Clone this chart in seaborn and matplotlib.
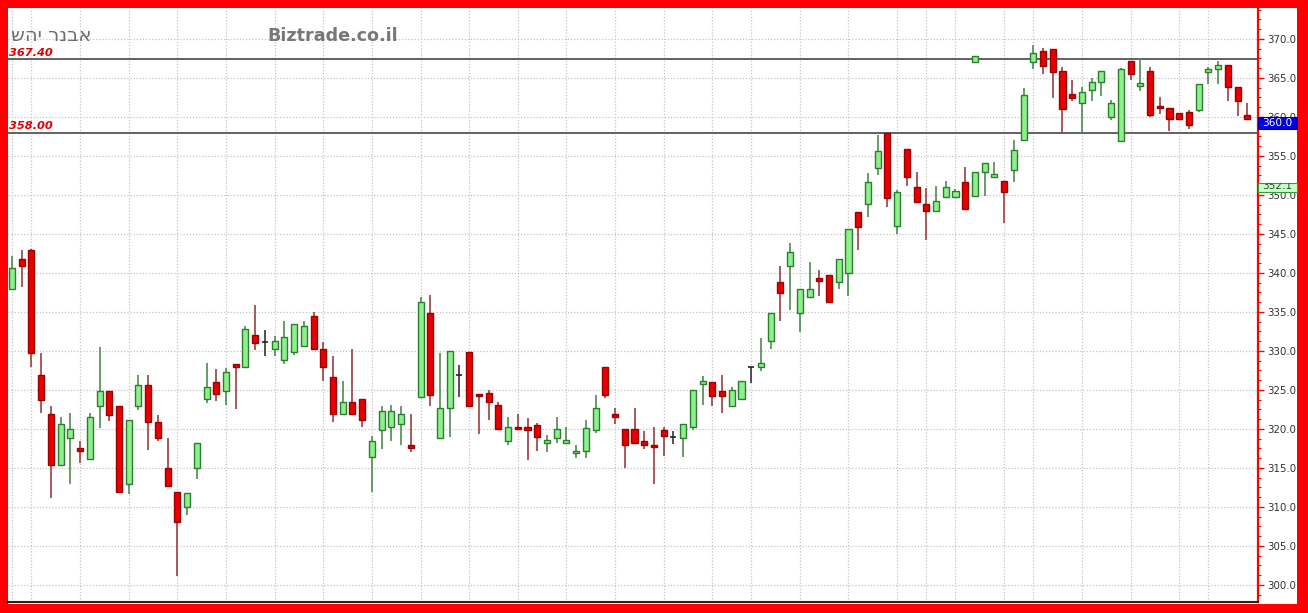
import matplotlib
matplotlib.use("Agg")
import matplotlib.pyplot as plt
import matplotlib.transforms as mtransforms
from matplotlib.patches import Rectangle
from matplotlib.ticker import MultipleLocator, FixedLocator
import numpy as np
import seaborn as sns

# ---- data (daily OHLC, oldest first) ----
opens = [337.9, 341.8, 343.0, 326.9, 321.9, 315.4, 318.8, 317.4, 316.1, 322.9,
         324.9, 322.9, 312.9, 322.9, 325.6, 320.9, 315.0, 311.9, 310.0, 315.0,
         323.9, 326.0, 324.9, 328.3, 327.9, 332.1, 331.1, 330.3, 328.9, 329.9,
         330.6, 334.5, 330.3, 326.7, 321.9, 323.4, 323.8, 316.4, 319.9, 320.2,
         320.6, 317.9, 324.1, 334.9, 318.8, 322.7, 326.9, 329.9, 324.5, 324.6,
         323.1, 318.4, 320.3, 320.1, 320.5, 318.2, 318.8, 318.2, 316.9, 317.2,
         319.9, 328.0, 321.9, 320.0, 320.0, 318.5, 318.0, 319.9, 319.0, 318.8,
         320.3, 325.8, 326.0, 324.9, 322.9, 323.9, 327.9, 328.0, 331.3, 338.9,
         340.9, 334.9, 336.9, 339.4, 339.7, 338.8, 340.0, 347.8, 348.9, 353.4,
         358.0, 346.0, 355.9, 351.0, 348.9, 347.9, 349.8, 349.8, 351.7, 349.9,
         352.9, 352.3, 351.8, 353.2, 357.1, 367.0, 368.4, 368.7, 365.9, 362.9,
         361.8, 363.5, 364.5, 360.0, 356.9, 367.2, 364.0, 365.9, 361.4, 361.2,
         360.5, 360.7, 360.9, 365.8, 366.2, 366.7, 363.8, 360.2]
highs = [342.2, 343.0, 343.1, 329.7, 322.9, 321.6, 322.0, 318.4, 322.0, 330.5,
         324.9, 322.9, 321.1, 326.9, 326.9, 321.8, 318.8, 311.9, 311.8, 318.2,
         328.4, 327.7, 327.8, 328.3, 333.2, 335.9, 332.7, 331.9, 333.9, 333.4,
         333.8, 335.0, 331.1, 329.4, 326.1, 330.2, 323.8, 319.1, 323.0, 323.1,
         323.0, 321.9, 336.9, 337.2, 329.7, 330.0, 328.2, 329.9, 324.5, 325.0,
         323.4, 321.6, 321.9, 321.4, 320.8, 319.2, 321.5, 320.3, 317.9, 321.2,
         324.4, 328.0, 322.7, 320.0, 322.7, 319.7, 320.3, 320.3, 319.7, 320.6,
         325.0, 326.8, 326.0, 326.9, 325.4, 326.1, 327.9, 331.7, 334.9, 340.9,
         343.9, 337.9, 341.4, 340.4, 339.7, 341.8, 345.6, 347.8, 352.8, 357.7,
         358.0, 350.7, 355.9, 353.0, 350.9, 351.2, 351.8, 350.8, 353.6, 352.9,
         354.1, 354.2, 351.8, 357.1, 363.7, 369.2, 368.9, 368.7, 366.4, 364.7,
         363.9, 365.0, 365.9, 362.2, 366.3, 367.2, 367.5, 366.4, 362.6, 361.2,
         360.5, 360.9, 364.2, 366.4, 367.2, 366.7, 363.8, 361.8]
lows = [337.9, 338.2, 328.0, 322.0, 311.1, 315.2, 312.9, 315.6, 316.1, 320.1,
        321.0, 311.9, 311.7, 322.4, 317.3, 318.4, 312.5, 301.1, 309.0, 313.6,
        323.3, 323.6, 323.1, 322.6, 327.9, 330.1, 329.3, 329.3, 328.3, 329.5,
        330.5, 330.3, 326.1, 320.9, 321.9, 321.9, 320.2, 311.9, 317.4, 318.5,
        317.9, 317.0, 324.1, 322.9, 318.8, 319.0, 324.1, 323.0, 319.3, 321.1,
        320.0, 317.9, 320.0, 316.0, 317.2, 317.1, 318.2, 318.2, 316.3, 316.3,
        319.5, 324.0, 320.6, 315.0, 318.2, 317.4, 312.9, 316.5, 318.1, 316.4,
        319.9, 323.1, 322.9, 322.0, 322.9, 323.9, 325.9, 327.4, 330.3, 333.8,
        335.2, 332.4, 336.9, 337.0, 336.1, 337.9, 337.0, 342.9, 347.2, 352.6,
        348.4, 345.0, 351.1, 349.1, 344.2, 347.9, 349.6, 349.8, 348.2, 349.9,
        349.9, 352.3, 346.4, 351.7, 357.0, 366.2, 365.5, 362.4, 358.0, 362.1,
        358.0, 362.1, 362.7, 359.6, 356.9, 364.7, 363.3, 360.0, 360.4, 358.2,
        359.6, 358.4, 360.6, 364.2, 364.2, 362.1, 360.1, 359.8]
closes = [340.6, 340.9, 329.7, 323.7, 315.4, 320.6, 320.0, 317.2, 321.6, 324.9,
          321.8, 311.9, 321.1, 325.6, 320.9, 318.9, 312.7, 308.1, 311.8, 318.2,
          325.4, 324.5, 327.3, 327.9, 332.8, 331.0, 331.1, 331.3, 331.8, 333.4,
          333.2, 330.3, 328.0, 321.9, 323.4, 321.9, 321.2, 318.5, 322.3, 322.3,
          321.9, 317.6, 336.3, 324.3, 322.7, 330.0, 326.9, 323.0, 324.2, 323.5,
          320.0, 320.3, 320.0, 319.9, 319.0, 318.6, 320.0, 318.6, 317.2, 320.1,
          322.7, 324.4, 321.6, 317.9, 318.2, 318.0, 317.7, 319.1, 319.0, 320.6,
          325.0, 326.1, 324.2, 324.2, 325.0, 326.1, 327.9, 328.4, 334.9, 337.4,
          342.7, 337.9, 337.9, 339.0, 336.3, 341.8, 345.6, 345.9, 351.7, 355.7,
          349.6, 350.4, 352.3, 349.1, 348.0, 349.2, 351.0, 350.5, 348.2, 352.9,
          354.1, 352.7, 350.4, 355.8, 362.8, 368.2, 366.5, 365.8, 361.0, 362.4,
          363.2, 364.5, 365.9, 361.8, 366.2, 365.5, 364.3, 360.3, 361.1, 359.7,
          359.7, 359.0, 364.2, 366.2, 366.7, 363.8, 362.1, 359.8]

# week separators (candle index) and horizontal levels
week_lines = [0, 2, 7, 12, 17, 22, 27, 32, 37, 42, 47, 52, 57, 62, 67, 72, 76,
              81, 86, 91, 94, 97, 102, 105, 110, 115, 120, 123]
levels = [367.40, 358.00]
marker_idx = 99
marker_price = 367.40
last_label = 360.0
avg_label = 352.1
y_ticks = list(range(300, 371, 5))

TITLE_HE = "אבנר יהש"
SITE = "Biztrade.co.il"

W, H = 1308, 613

sns.set_style("white")
plt.rcParams["font.family"] = ["DejaVu Sans"]

fig = plt.figure(figsize=(W / 100, H / 100), dpi=100, facecolor="#ff0000")

# white canvas inside the red frame (behind the axes)
fig.patches.append(Rectangle((8 / W, 9 / H), (1297 - 8) / W, (604 - 8) / H,
                             transform=fig.transFigure, facecolor="white",
                             edgecolor="none", zorder=-5))

ax = fig.add_axes([8 / W, (H - 602) / H, (1258 - 8) / W, (602 - 8) / H])
ax.set_facecolor("white")
ax.set_zorder(2)

n = len(opens)
idx = np.arange(n)
o = np.array(opens)
c = np.array(closes)
hi = np.array(highs)
lo = np.array(lows)

up = c > o
down = c < o
flat = c == o

GREEN_FILL = "#8cf08c"
GREEN_EDGE = "#2e7d2e"
GREEN_WICK = "#4f8a4f"
RED_FILL = "#e80000"
RED_EDGE = "#9a0000"
RED_WICK = "#9a4040"

# grid
for v in y_ticks:
    ax.axhline(v, color="#c4c4c4", lw=0.9, ls=(0, (1, 1.5)), zorder=1)
for v in week_lines:
    ax.axvline(v, color="#c4c4c4", lw=0.9, ls=(0, (1, 1.5)), zorder=1)

# support / resistance levels
for lv in levels:
    ax.axhline(lv, color="#555555", lw=1.3, zorder=2)
    ax.annotate(f"{lv:.2f}", xy=(0.001, lv),
                xycoords=ax.get_yaxis_transform(),
                xytext=(0, 2.4), textcoords="offset points",
                ha="left", va="baseline", color="#e00000",
                fontsize=8.2, fontweight="bold", fontstyle="italic", zorder=6)

# wicks
ax.vlines(idx[up], lo[up], hi[up], color=GREEN_WICK, lw=1.2, zorder=3)
ax.vlines(idx[down], lo[down], hi[down], color=RED_WICK, lw=1.2, zorder=3)
ax.vlines(idx[flat], lo[flat], hi[flat], color="#222222", lw=1.1, zorder=3)

# bodies
bw = 0.62
min_h = 0.3
for mask, fill, edge in [(up, GREEN_FILL, GREEN_EDGE), (down, RED_FILL, RED_EDGE)]:
    bottoms = np.minimum(o[mask], c[mask])
    heights = np.maximum(np.abs(c[mask] - o[mask]), min_h)
    ax.bar(idx[mask], heights, bottom=bottoms, width=bw, color=fill,
           edgecolor=edge, linewidth=1.0, zorder=4)
ax.hlines(o[flat], idx[flat] - bw / 2, idx[flat] + bw / 2, color="#222222",
          lw=1.2, zorder=4)

# small marker sitting on the upper level
sns.scatterplot(x=[marker_idx], y=[marker_price], marker="s", s=20,
                color=GREEN_FILL, edgecolor=GREEN_EDGE, linewidth=1.0,
                ax=ax, zorder=5, legend=False)

ax.set_xlim(-0.41, 128.1)
ax.set_ylim(297.82, 373.97)

# right price axis
ax.yaxis.tick_right()
ax.yaxis.set_major_locator(FixedLocator(y_ticks))
ax.set_yticklabels([f"{v:.1f}" for v in y_ticks])
ax.yaxis.set_minor_locator(MultipleLocator(1.25))
ax.tick_params(axis="y", which="major", direction="out", length=4, width=1,
               color="#ff0000", labelsize=7.4, labelcolor="#333333", pad=2.5)
ax.tick_params(axis="y", which="minor", direction="out", length=2.5, width=0.8,
               color="#ff0000")
ax.set_xticks([])
ax.set_xlabel("")
ax.set_ylabel("")
for s in ["left", "top"]:
    ax.spines[s].set_visible(False)
ax.spines["right"].set_color("#ff0000")
ax.spines["right"].set_linewidth(1.6)
ax.spines["bottom"].set_color("#222222")
ax.spines["bottom"].set_linewidth(1.5)

# value boxes on the price axis
trans = mtransforms.blended_transform_factory(ax.transAxes, ax.transData)
box_w = (1297 - 1258) / (1258 - 8)
u = 1 / 7.8  # price per pixel

blue = Rectangle((1.0, last_label - 12 * u), box_w, 12 * u, transform=trans,
                 facecolor="#0000e0", edgecolor="#0000a0", lw=0.8,
                 clip_on=False, zorder=10)
ax.add_patch(blue)
ax.text(1.0 + box_w / 2, last_label - 6 * u, f"{last_label:.1f}", transform=trans,
        ha="center", va="center", color="white", fontsize=7.6, clip_on=False,
        zorder=11)

gbox_top = avg_label - 0.6
green = Rectangle((1.0, gbox_top - 8.5 * u), box_w, 8.5 * u, transform=trans,
                  facecolor="#ccffcc", edgecolor="#3a9a3a", lw=0.8,
                  clip_on=False, zorder=10)
ax.add_patch(green)
gt = ax.text(1.0 + box_w / 2, gbox_top - 5.5 * u, f"{avg_label:.1f}",
             transform=trans, ha="center", va="baseline", color="#225522",
             fontsize=7.6, zorder=11)
gt.set_clip_path(green)
gt.set_clip_on(True)

# header texts
fig.text(11 / W, 1 - 41 / H, TITLE_HE[::-1], ha="left", va="baseline",
         color="#6e6e6e", fontsize=14)
fig.text(267 / W, 1 - 41 / H, SITE, ha="left", va="baseline",
         color="#777777", fontsize=12.6, fontweight="bold")

fig.savefig("out.png", dpi=100, facecolor=fig.get_facecolor())
